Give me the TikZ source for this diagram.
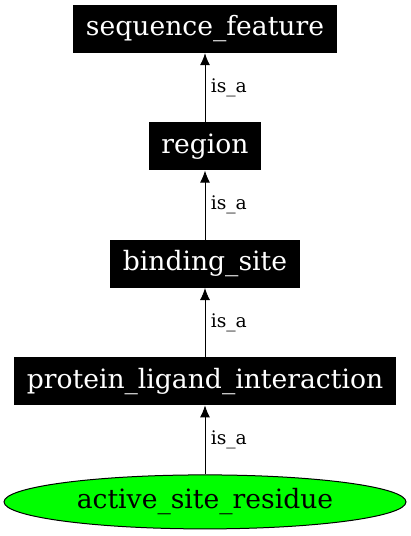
\documentclass[tikz,border=0pt]{standalone}
\usepackage{fontspec}
\setmainfont{DejaVu Serif}
\usetikzlibrary{arrows.meta,positioning,shapes.geometric}
\tikzset{every picture/.style={
  >={Latex[length=12pt,width=10pt]}  % Graphviz style arrows.
  }
}

\begin{document}
\begin{tikzpicture}[x=1pt,y=-1pt,
        term/.style={
          rectangle,
          fill=black,
          text=white,
          font=\fontsize{26.6}{30}\selectfont,
          minimum height=48pt,
          inner xsep=12.5pt,
          inner ysep=0pt,
          node distance=69pt,
        },
        leaf/.style={
          ellipse,
          draw,
          line width=1pt,
          fill=green,
          font=\fontsize{26.6}{30}\selectfont,
          minimum width=402pt,
          minimum height=54pt,
          inner sep=0pt,
          node distance=69pt,
        },
        rel/.style={right,xshift=2pt,font=\fontsize{18.7}{20}\selectfont}]
      \useasboundingbox (0,0) rectangle (411,536);
      \node[term] (sequence_feature) at (205,29) {sequence\_feature};
      \node[term] (region) [below=of sequence_feature] {region}
        edge [line width=0.9pt,->] node[rel] {is\_a} (sequence_feature);
      \node[term] (binding_site) [below=of region] {binding\_site}
        edge [line width=0.9pt,->] node[rel] {is\_a} (region);
      \node[term] (protein_ligand_interaction) [below=of binding_site] { %
        protein\_ligand\_interaction}
        edge [line width=0.9pt,->] node[rel] {is\_a} (binding_site);
      \node[leaf] (active_site_residue) [below=of protein_ligand_interaction] { %
        active\_site\_residue}
        edge [line width=0.9pt,->] node[rel] {is\_a} (protein_ligand_interaction);
      \end{tikzpicture}
\end{document}
